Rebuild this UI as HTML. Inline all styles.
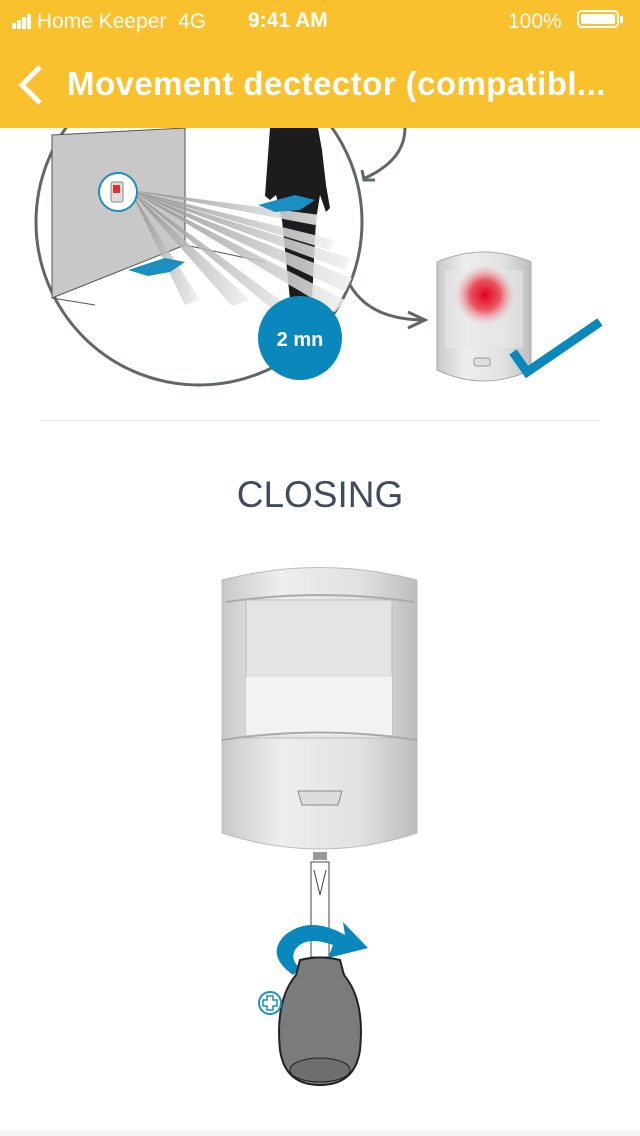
<!DOCTYPE html>
<html><head><meta charset="utf-8"><style>
html,body{margin:0;padding:0;width:640px;height:1136px;background:#fff;overflow:hidden;font-family:"Liberation Sans",sans-serif;}
.hdr{position:absolute;left:0;top:0;width:640px;height:128px;background:#F8C12D;color:#fff;z-index:2}
</style></head><body>
<svg width="640" height="1136" style="position:absolute;left:0;top:0">
<defs>
<linearGradient id="bd" x1="0" x2="1"><stop offset="0" stop-color="#c9c9cb"/><stop offset=".3" stop-color="#eeeeef"/><stop offset=".7" stop-color="#e2e2e3"/><stop offset="1" stop-color="#bdbdbf"/></linearGradient>
<radialGradient id="red"><stop offset="0" stop-color="#e0001b"/><stop offset=".5" stop-color="#e8303f" stop-opacity=".8"/><stop offset="1" stop-color="#f0a0a8" stop-opacity="0"/></radialGradient>
<linearGradient id="ray" x1="0" x2="1"><stop offset="0" stop-color="#888"/><stop offset="1" stop-color="#f2f2f2"/></linearGradient>
</defs>
<circle cx="199" cy="222" r="163" fill="#fff" stroke="#5f6769" stroke-width="3"/>
<polygon points="52,135 185,128 185,245 52,298" fill="#c8c8c8" stroke="#555" stroke-width="1"/>
<line x1="52" y1="298" x2="95" y2="305" stroke="#555"/>
<line x1="185" y1="245" x2="265" y2="262" stroke="#555"/>
<path d="M270 128 L318 128 L322 150 L326 185 L330 208 L326 212 L320 195 L316 220 L312 300 L290 300 L282 220 L276 195 L270 200 L265 196 Z" fill="#1c1c1e"/>
<g fill="url(#ray)" opacity=".85">
<polygon points="130,190 335,240 330,250"/>
<polygon points="130,190 350,258 345,270"/>
<polygon points="130,190 352,278 345,292"/>
<polygon points="130,190 345,300 335,312"/>
<polygon points="130,190 300,315 285,320"/>
<polygon points="130,190 250,300 232,306"/>
<polygon points="130,190 200,300 185,305"/>
<polygon points="130,190 320,215 315,225"/>
</g>
<polygon points="258,205 295,195 315,200 300,210 275,212" fill="#1a8fc0"/>
<polygon points="128,270 165,258 185,262 170,272 148,276" fill="#1a8fc0"/>
<circle cx="118" cy="192" r="19" fill="#fff" stroke="#1a8fc0" stroke-width="2"/>
<rect x="111" y="182" width="12" height="20" rx="2" fill="#ddd" stroke="#888"/>
<rect x="113" y="185" width="7" height="8" fill="#d33"/>
<path d="M405 128 Q405 160 365 178" stroke="#5f6769" stroke-width="3" fill="none"/>
<path d="M362 170 L364 180 L375 180" stroke="#5f6769" stroke-width="3" fill="none"/>
<path d="M350 285 Q370 320 425 320" stroke="#5f6769" stroke-width="3" fill="none"/>
<path d="M408 312 L425 320 L408 328" stroke="#5f6769" stroke-width="3" fill="none"/>
<circle cx="300" cy="338" r="42" fill="#0b88bb"/>
<text x="300" y="346" text-anchor="middle" fill="#fff" font-size="20" font-weight="bold">2 mn</text>
<path d="M437 262 Q484 242 531 262 L531 370 Q484 392 437 370 Z" fill="url(#bd)" stroke="#aaa"/>
<rect x="445" y="270" width="78" height="78" fill="#e8e8e8" opacity=".6"/>
<circle cx="485" cy="295" r="30" fill="url(#red)"/>
<rect x="474" y="358" width="16" height="8" rx="2" fill="#ddd" stroke="#999"/>
<path d="M513 352 L527 372 L600 322" stroke="#0b88bb" stroke-width="9" fill="none"/>
<line x1="40" y1="420.5" x2="600" y2="420.5" stroke="#ececec"/>
<text x="320" y="507" text-anchor="middle" fill="#3e4c60" font-size="37">CLOSING</text>
<path d="M222 580 Q320 555 417 580 L417 833 Q320 865 222 833 Z" fill="url(#bd)" stroke="#bbb"/>
<path d="M226 602 Q320 588 414 602" stroke="#aaa" stroke-width="2" fill="none"/>
<rect x="246" y="600" width="146" height="138" fill="#e4e4e5" stroke="#bbb"/>
<rect x="246" y="677" width="146" height="58" fill="#f2f2f2"/>
<path d="M222 740 Q320 725 417 740" stroke="#aaa" stroke-width="2" fill="none"/>
<path d="M298 791 L342 791 L338 805 L302 805 Z" fill="#ddd" stroke="#888"/>
<rect x="313" y="852" width="14" height="8" fill="#999"/>
<rect x="311" y="862" width="18" height="95" fill="#fff" stroke="#444"/>
<path d="M314 870 L320 895 L326 870" stroke="#444" fill="none"/>
<path d="M293 975 Q265 955 285 935 Q310 915 345 935 L343 922 L368 948 L328 958 L333 945 Q305 935 295 950 Q290 960 300 968 Z" fill="#0b88bb"/>
<path d="M300 960 Q320 955 340 960 L344 975 Q365 1000 360 1050 Q355 1085 320 1085 Q285 1085 280 1050 Q275 1000 296 975 Z" fill="#7b7b7b" stroke="#222" stroke-width="2"/>
<ellipse cx="320" cy="1070" rx="30" ry="12" fill="#6e6e6e" stroke="#222"/>
<circle cx="270" cy="1003" r="11" fill="#fff" stroke="#1a8fc0" stroke-width="2"/>
<path d="M267 996 h6 v4 h4 v6 h-4 v4 h-6 v-4 h-4 v-6 h4 z" fill="none" stroke="#1a8fc0" stroke-width="1.5"/>
<rect x="0" y="1130" width="640" height="6" fill="#f4f4f4"/>
</svg>
<div class="hdr">
<div style="position:absolute;left:12px;top:10px;font-size:21px">
<span style="display:inline-block;vertical-align:-1px">
<i style="display:inline-block;width:4px;height:6px;background:#fff;margin-right:1px"></i><i style="display:inline-block;width:4px;height:9px;background:#fff;margin-right:1px"></i><i style="display:inline-block;width:4px;height:12px;background:#fff;margin-right:1px"></i><i style="display:inline-block;width:4px;height:15px;background:#fff"></i></span>
Home Keeper&nbsp;&nbsp;4G</div>
<div style="position:absolute;left:248px;top:9px;font-size:21px;font-weight:bold">9:41 AM</div>
<div style="position:absolute;left:508px;top:10px;font-size:21px">100%</div>
<div style="position:absolute;left:577px;top:10px;width:42px;height:18px;border:2px solid #fff;border-radius:5px;box-sizing:border-box;padding:2px"><div style="background:#fff;width:100%;height:100%;border-radius:2px"></div></div>
<div style="position:absolute;left:620px;top:16px;width:3px;height:7px;background:#fff"></div>
<svg style="position:absolute;left:16px;top:64px" width="30" height="42"><path d="M24 3 L6 21 L24 39" stroke="#fff" stroke-width="5" fill="none"/></svg>
<div style="position:absolute;left:67px;top:65px;font-size:33px;font-weight:bold;white-space:nowrap;letter-spacing:0.45px">Movement dectector (compatibl...</div>
</div>
</body></html>
